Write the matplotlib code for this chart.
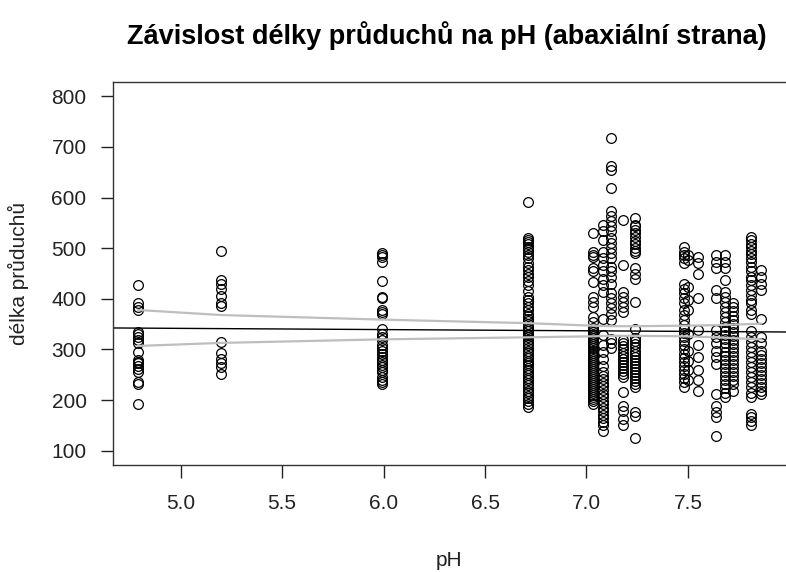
"""
Závislost délky průduchů na pH (abaxiální strana) - scatter + lineární fit
"""

import matplotlib
matplotlib.use('Agg')
import matplotlib.pyplot as plt

plt.rcParams['font.family'] = ['Liberation Sans', 'DejaVu Sans']

# pH jednotlivých lokalit a naměřené délky průduchů
ph_levels = [4.79, 5.20, 5.99, 6.71, 7.03, 7.08, 7.12, 7.18, 7.24,
             7.48, 7.50, 7.55, 7.64, 7.68, 7.72, 7.81, 7.86]

d_479 = [427, 391, 383, 378, 335, 330, 325, 318, 312, 295, 280, 276, 273,
         268, 262, 255, 236, 232, 193]
d_520 = [495, 437, 430, 420, 406, 392, 386, 315, 293, 282, 273, 265, 251]
d_599 = [490, 486, 483, 473, 436, 404, 401, 378, 374, 371, 341, 331, 325,
         318, 308, 302, 297, 292, 285, 280, 275, 270, 265, 260, 255, 245,
         240, 235, 232]
d_671 = [592, 520, 516, 513, 508, 503, 498, 493, 487, 480, 470, 463, 457,
         450, 444, 435, 427, 415, 404, 397, 391, 384, 378, 371, 366, 361,
         356, 351, 345, 340, 336, 331, 328, 325, 318, 312, 308, 303, 298,
         293, 288, 283, 278, 273, 269, 264, 259, 254, 249, 244, 239, 234,
         229, 224, 219, 214, 209, 204, 199, 193, 187]
d_703 = [530, 493, 486, 483, 460, 454, 434, 404, 394, 384, 364, 354, 342,
         338, 334, 330, 326, 322, 318, 314, 310, 306, 302, 298, 294, 290,
         286, 282, 278, 274, 270, 266, 262, 258, 254, 250, 246, 242, 238,
         234, 230, 226, 222, 218, 214, 210, 206, 202, 198, 193]
d_708 = [546, 533, 516, 493, 480, 467, 454, 440, 427, 414, 361, 328, 308,
         295, 282, 268, 255, 248, 241, 234, 227, 220, 213, 206, 199, 192,
         185, 178, 171, 164, 157, 150, 140]
d_712 = [718, 662, 655, 619, 573, 563, 553, 543, 533, 520, 510, 500, 490,
         480, 463, 454, 444, 430, 411, 401, 391, 381, 371, 358, 321, 312,
         302]
d_718 = [556, 467, 414, 404, 394, 384, 374, 318, 312, 306, 300, 294, 288,
         282, 276, 270, 264, 258, 252, 246, 216, 189, 179, 163, 150]
d_724 = [559, 546, 543, 536, 529, 522, 515, 508, 501, 494, 490, 460, 450,
         440, 394, 341, 322, 316, 310, 304, 298, 292, 286, 280, 274, 268,
         262, 256, 250, 244, 238, 232, 226, 176, 169, 126]
d_748 = [503, 493, 487, 480, 470, 430, 420, 411, 401, 391, 378, 368, 358,
         348, 340, 332, 324, 316, 308, 300, 292, 284, 276, 268, 260, 252,
         244, 236, 226]
d_750 = [487, 477, 424, 397, 378, 331, 298, 278, 259, 239]
d_755 = [483, 470, 450, 401, 338, 308, 285, 259, 239, 219]
d_764 = [487, 473, 460, 417, 401, 338, 325, 312, 298, 285, 272, 212, 189,
         176, 166, 130]
d_768 = [487, 473, 460, 437, 414, 404, 394, 384, 374, 364, 354, 344, 336,
         328, 320, 312, 304, 296, 288, 280, 272, 264, 256, 248, 240, 232,
         224, 215, 206]
d_772 = [391, 383, 375, 367, 359, 351, 343, 335, 327, 319, 311, 303, 295,
         287, 279, 271, 263, 255, 247, 239, 231, 219]
d_781 = [523, 516, 509, 502, 495, 488, 480, 473, 463, 454, 444, 437, 427,
         417, 407, 397, 391, 378, 371, 336, 325, 315, 305, 295, 285, 275,
         265, 255, 245, 235, 225, 215, 206, 173, 166, 158, 150]
d_786 = [457, 444, 430, 417, 361, 325, 312, 298, 290, 282, 274, 266, 258,
         250, 242, 234, 226, 219, 212]

delky = [d_479, d_520, d_599, d_671, d_703, d_708, d_712, d_718, d_724,
         d_748, d_750, d_755, d_764, d_768, d_772, d_781, d_786]

# regresní přímka a hranice intervalu spolehlivosti
fit_intercept = 353.7
fit_slope = -2.4
ci_ph = [4.79, 5.20, 5.99, 6.71, 7.03, 7.12, 7.24, 7.48, 7.64, 7.86]
ci_upper = [378, 368, 359, 352, 347, 346, 346, 347, 348, 351]
ci_lower = [307, 313, 320, 324, 326, 327, 327, 326, 324, 320]

x_ticks = [5.0, 5.5, 6.0, 6.5, 7.0, 7.5]
y_ticks = [100, 200, 300, 400, 500, 600, 700, 800]


def main():
    fig = plt.figure(figsize=(7.86, 5.72), dpi=100)
    ax = fig.add_axes([113 / 786, 1 - 465 / 572, 673 / 786, 383 / 572])

    for ph, vals in zip(ph_levels, delky):
        ax.plot([ph] * len(vals), vals, 'o', mfc='none', mec='black',
                ms=7, mew=0.9, linestyle='none')

    ax.plot(ci_ph, ci_upper, color='#bebebe', lw=1.6)
    ax.plot(ci_ph, ci_lower, color='#bebebe', lw=1.6)
    ax.axline((0, fit_intercept), slope=fit_slope, color='black', lw=1.0)

    ax.set_xlim(4.667, 7.983)
    ax.set_ylim(72, 828)
    ax.set_xticks(x_ticks)
    ax.set_xticklabels([f'{t:.1f}' for t in x_ticks])
    ax.set_yticks(y_ticks)
    ax.tick_params(axis='both', labelsize=15, length=9, width=1.0,
                   colors='#222222')
    ax.tick_params(axis='x', pad=12)
    ax.tick_params(axis='y', pad=10)
    for side in ['left', 'top', 'bottom']:
        ax.spines[side].set_color('#333333')
        ax.spines[side].set_linewidth(1.0)
    ax.spines['right'].set_visible(False)

    fig.text(447 / 786, 1 - 36 / 572,
             'Závislost délky průduchů na pH (abaxiální strana)',
             ha='center', va='center', fontsize=19.5, fontweight='bold')
    fig.text(449 / 786, 1 - 561 / 572, 'pH', ha='center', va='center',
             fontsize=15, color='#222222')
    fig.text(18 / 786, 1 - 273 / 572, 'délka průduchů', ha='center',
             va='center', rotation=90, fontsize=15, color='#222222')

    fig.savefig('out.png', dpi=100)


if __name__ == '__main__':
    main()
